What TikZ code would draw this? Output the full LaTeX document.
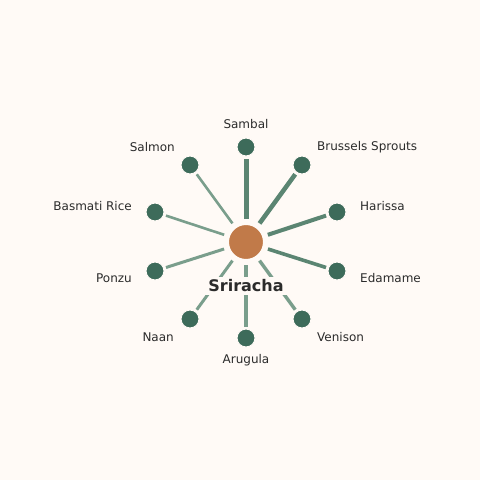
\documentclass[tikz,border=0pt]{standalone}
\usepackage{fontspec}
\setmainfont{DejaVu Sans}
\definecolor{bg}{HTML}{FFFAF6}
\definecolor{leaf}{HTML}{3D6B5A}
\definecolor{hub}{HTML}{C17A49}
\definecolor{spokeA}{HTML}{5B8572}
\definecolor{spokeB}{HTML}{7A9E8C}
\definecolor{txt}{HTML}{2B2B2B}
\begin{document}
\begin{tikzpicture}[x=1pt,y=-1pt,
  leafnode/.style={circle,fill=leaf,draw=bg,line width=1pt,minimum size=18pt,inner sep=0pt},
  hubnode/.style={circle,fill=hub,draw=bg,line width=2pt,minimum size=36pt,inner sep=0pt},
  lbl/.style={text=txt,font=\fontsize{12}{14}\selectfont,inner sep=0pt},
  spoke/.style={shorten <=4pt,shorten >=2pt}]
\fill[bg] (0,0) rectangle (480,480);
\useasboundingbox (0,0) rectangle (480,480);
\node[hubnode] (c) at (246,242) {};
\node[leafnode] (sambal) at (246,147) {};
\node[leafnode] (brussels) at (302,165) {};
\node[leafnode] (harissa) at (337,212) {};
\node[leafnode] (edamame) at (337,271) {};
\node[leafnode] (venison) at (302,319) {};
\node[leafnode] (arugula) at (246,338) {};
\node[leafnode] (naan) at (190,319) {};
\node[leafnode] (ponzu) at (155,271) {};
\node[leafnode] (basmati) at (155,212) {};
\node[leafnode] (salmon) at (190,165) {};
\draw[spoke,spokeA,line width=5pt] (c) -- (sambal);
\draw[spoke,spokeA,line width=4.5pt] (c) -- (brussels);
\draw[spoke,spokeA,line width=4pt] (c) -- (harissa);
\draw[spoke,spokeA,line width=3.6pt] (c) -- (edamame);
\draw[spoke,spokeB,line width=3.4pt] (c) -- (venison);
\draw[spoke,spokeB,line width=3.2pt] (c) -- (arugula);
\draw[spoke,spokeB,line width=3pt] (c) -- (naan);
\draw[spoke,spokeB,line width=3pt] (c) -- (ponzu);
\draw[spoke,spokeB,line width=2.6pt] (c) -- (basmati);
\draw[spoke,spokeB,line width=2.6pt] (c) -- (salmon);
\node[fill=bg,inner xsep=3pt,inner ysep=3pt,text=txt,font=\fontsize{16}{18}\selectfont\bfseries] (title) at (246,286) {Sriracha};
\node[lbl,anchor=center] (tsambal) at (246,124) {Sambal};
\node[lbl,anchor=west] (tbrussels) at (317,147) {Brussels Sprouts};
\node[lbl,anchor=west] (tharissa) at (360,206) {Harissa};
\node[lbl,anchor=west] (tedamame) at (360,278) {Edamame};
\node[lbl,anchor=west] (tvenison) at (317,337) {Venison};
\node[lbl,anchor=center] (tarugula) at (246,360) {Arugula};
\node[lbl,anchor=east] (tnaan) at (174,337) {Naan};
\node[lbl,anchor=east] (tponzu) at (132,278) {Ponzu};
\node[lbl,anchor=east] (tbasmati) at (132,206) {Basmati Rice};
\node[lbl,anchor=east] (tsalmon) at (175,147) {Salmon};
\end{tikzpicture}
\end{document}
